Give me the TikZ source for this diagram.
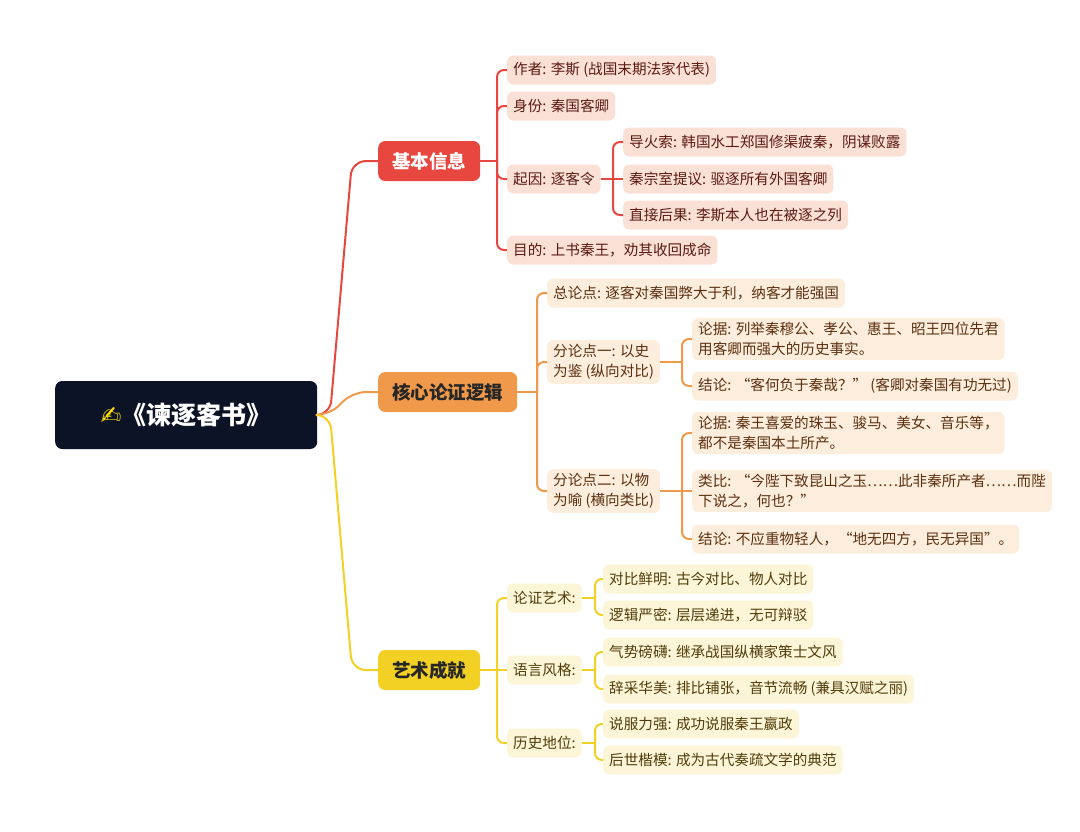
\documentclass[tikz,border=0pt]{standalone}
\usepackage{fontspec}
\setmainfont{Noto Sans CJK SC}
\newfontfamily\emo{DejaVu Sans}
\begin{document}
\begin{tikzpicture}[x=1pt,y=-1pt,
  leaf/.style={anchor=west,rounded corners=6,inner xsep=6,inner ysep=4,minimum height=29,align=left,font=\fontsize{14.6}{20.5}\selectfont},
  rl/.style={leaf,fill={rgb,255:red,251;green,224;blue,214},text={rgb,255:red,90;green,26;blue,16}},
  ol/.style={leaf,fill={rgb,255:red,253;green,237;blue,220},text={rgb,255:red,90;green,48;blue,16}},
  yl/.style={leaf,fill={rgb,255:red,253;green,245;blue,216},text={rgb,255:red,80;green,60;blue,10}},
  l1/.style={anchor=west,rounded corners=7,minimum height=40,inner xsep=14,font=\fontsize{18.5}{22}\selectfont\bfseries},
  rc/.style={draw={rgb,255:red,232;green,71;blue,63},line width=2,rounded corners=7},
  oc/.style={draw={rgb,255:red,240;green,153;blue,74},line width=2,rounded corners=7},
  yc/.style={draw={rgb,255:red,242;green,208;blue,36},line width=2,rounded corners=7}]
\useasboundingbox (0,0) rectangle (1080,831);
\node[anchor=west,fill={rgb,255:red,13;green,19;blue,38},rounded corners=7,minimum width=262,minimum height=68,text=white,font=\fontsize{25}{30}\selectfont\bfseries] (root) at (55,415) {{\emo\color{yellow!80!orange}✍}《谏逐客书》};
\node[l1,fill={rgb,255:red,232;green,71;blue,63},text=white] (a) at (378,161) {基本信息};
\node[l1,fill={rgb,255:red,240;green,153;blue,74},text=black!85] (b) at (378,392) {核心论证逻辑};
\node[l1,fill={rgb,255:red,242;green,208;blue,36},text=black!85] (c) at (378,670) {艺术成就};
\draw[rc,rounded corners=14] (root.east) -- (330,415) -- (352,161) -- (a.west);
\draw[oc,rounded corners=14] (root.east) -- (330,415) -- (352,392) -- (b.west);
\draw[yc,rounded corners=14] (root.east) -- (330,415) -- (352,670) -- (c.west);
% red
\node[rl] (a1) at (507,70) {作者: 李斯 (战国末期法家代表)};
\node[rl] (a2) at (507,106) {身份: 秦国客卿};
\node[rl] (a3) at (507,179) {起因: 逐客令};
\node[rl] (a4) at (507,250) {目的: 上书秦王，劝其收回成命};
\node[rl] (a31) at (623,142) {导火索: 韩国水工郑国修渠疲秦，阴谋败露};
\node[rl] (a32) at (623,179) {秦宗室提议: 驱逐所有外国客卿};
\node[rl] (a33) at (623,215) {直接后果: 李斯本人也在被逐之列};
\draw[rc] (a.east) -- (497,161);
\foreach \n in {a1,a2,a3,a4} \draw[rc] (497,161) |- (\n.west);
\draw[rc] (a3.east) -- (a32.west);
\foreach \n in {a31,a33} \draw[rc] (613,179) |- (\n.west);
% orange
\node[ol] (b1) at (547,293) {总论点: 逐客对秦国弊大于利，纳客才能强国};
\node[ol] (b2) at (547,362) {分论点一: 以史\\为鉴 (纵向对比)};
\node[ol] (b3) at (547,491) {分论点二: 以物\\为喻 (横向类比)};
\node[ol] (b21) at (692,339) {论据: 列举秦穆公、孝公、惠王、昭王四位先君\\用客卿而强大的历史事实。};
\node[ol] (b22) at (692,386) {结论: “客何负于秦哉？” (客卿对秦国有功无过)};
\node[ol] (b31) at (692,433) {论据: 秦王喜爱的珠玉、骏马、美女、音乐等，\\都不是秦国本土所产。};
\node[ol] (b32) at (692,491) {类比: “今陛下致昆山之玉……此非秦所产者……而陛\\下说之，何也？”};
\node[ol] (b33) at (692,539) {结论: 不应重物轻人，“地无四方，民无异国”。};
\draw[oc] (b.east) -- (537,392);
\foreach \n in {b1,b2,b3} \draw[oc] (537,392) |- (\n.west);
\draw[oc] (b2.east) -- (682,362);
\foreach \n in {b21,b22} \draw[oc] (682,362) |- (\n.west);
\draw[oc] (b3.east) -- (b32.west);
\foreach \n in {b31,b33} \draw[oc] (682,491) |- (\n.west);
% yellow
\node[yl] (c1) at (507,598) {论证艺术:};
\node[yl] (c2) at (507,670) {语言风格:};
\node[yl] (c3) at (507,743) {历史地位:};
\node[yl] (c11) at (603,579) {对比鲜明: 古今对比、物人对比};
\node[yl] (c12) at (603,615) {逻辑严密: 层层递进，无可辩驳};
\node[yl] (c21) at (603,652) {气势磅礴: 继承战国纵横家策士文风};
\node[yl] (c22) at (603,689) {辞采华美: 排比铺张，音节流畅 (兼具汉赋之丽)};
\node[yl] (c31) at (603,724) {说服力强: 成功说服秦王嬴政};
\node[yl] (c32) at (603,760) {后世楷模: 成为古代奏疏文学的典范};
\draw[yc] (c.east) -- (c2.west);
\foreach \n in {c1,c3} \draw[yc] (497,670) |- (\n.west);
\draw[yc] (c1.east) -- (595,598);
\foreach \n in {c11,c12} \draw[yc] (595,598) |- (\n.west);
\draw[yc] (c2.east) -- (595,670);
\foreach \n in {c21,c22} \draw[yc] (595,670) |- (\n.west);
\draw[yc] (c3.east) -- (595,743);
\foreach \n in {c31,c32} \draw[yc] (595,743) |- (\n.west);
\end{tikzpicture}
\end{document}
